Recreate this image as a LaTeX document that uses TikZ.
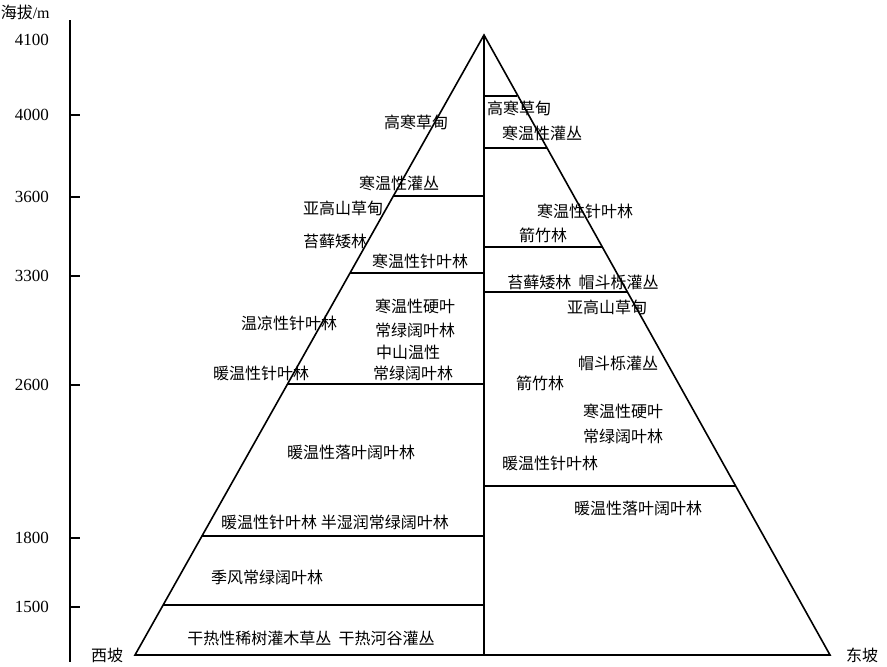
\documentclass[tikz,border=0pt]{standalone}
\usepackage{fontspec}
\setmainfont{Liberation Serif}
\newfontfamily\cjk{Noto Sans CJK SC}
\begin{document}
\begin{tikzpicture}[x=1pt,y=-1pt,line width=1.6pt,
  t/.style={font=\cjk\fontsize{16}{18}\selectfont,inner sep=0pt,align=center},
  n/.style={font=\fontsize{17}{19}\selectfont,inner sep=0pt}]
\useasboundingbox (0,0) rectangle (887,667);
\coordinate (A) at (484,35); \coordinate (L) at (135,655); \coordinate (R) at (830,655); \coordinate (B) at (484,655);
\draw (A) -- (L) -- (R) -- cycle;
\draw (A) -- (B);
% axis
\coordinate (ax1) at (70,20); \coordinate (ax2) at (70,662);
\draw (ax1) -- (ax2);
\foreach \y/\l in {115/4000,197/3600,276/3300,385/2600,538/1800,607/1500}{
  \draw (70,\y) -- (80,\y);
  \node[n] at (32,\y) {\l};}
\node[n] at (32,40) {4100};
\node[t,anchor=west] at (0,12) {海拔\fontspec{Liberation Serif}/m};
% west lines
\foreach \y in {196,273,384,536,605}{
  \pgfmathsetmacro\xl{484-0.5629*(\y-35)}
  \draw (\xl,\y) -- (484,\y);}
% east lines
\foreach \y in {96,148,247,292,486}{
  \pgfmathsetmacro\xr{484+0.558*(\y-35)+ (\y<200 ? -28+0.0*\y : 0)}
}
\draw (484,96) -- (517,96);
\draw (484,148) -- (547,148);
\draw (484,247) -- (602,247);
\draw (484,292) -- (627,292);
\draw (484,486) -- (736,486);
% west labels
\node[t] at (416,122) {高寒草甸};
\node[t] at (399,183) {寒温性灌丛};
\node[t] at (343,208) {亚高山草甸};
\node[t] at (335,241) {苔藓矮林};
\node[t] at (420,261) {寒温性针叶林};
\node[t] at (289,323) {温凉性针叶林};
\node[t] at (415,306) {寒温性硬叶};
\node[t] at (415,330) {常绿阔叶林};
\node[t] at (408,352) {中山温性};
\node[t] at (413,373) {常绿阔叶林};
\node[t] at (261,373) {暖温性针叶林};
\node[t] at (351,452) {暖温性落叶阔叶林};
\node[t] at (335,522) {暖温性针叶林\ 半湿润常绿阔叶林};
\node[t] at (267,577) {季风常绿阔叶林};
\node[t] at (311,638) {干热性稀树灌木草丛\ \ 干热河谷灌丛};
% east labels
\node[t] at (519,108) {高寒草甸};
\node[t] at (542,133) {寒温性灌丛};
\node[t] at (585,211) {寒温性针叶林};
\node[t] at (543,235) {箭竹林};
\node[t] at (583,282) {苔藓矮林\ \ 帽斗栎灌丛};
\node[t] at (607,307) {亚高山草甸};
\node[t] at (618,363) {帽斗栎灌丛};
\node[t] at (540,383) {箭竹林};
\node[t] at (623,411) {寒温性硬叶};
\node[t] at (623,436) {常绿阔叶林};
\node[t] at (550,463) {暖温性针叶林};
\node[t] at (638,508) {暖温性落叶阔叶林};
\node[t] at (107,655) {西坡};
\node[t] at (862,655) {东坡};
\end{tikzpicture}
\end{document}
